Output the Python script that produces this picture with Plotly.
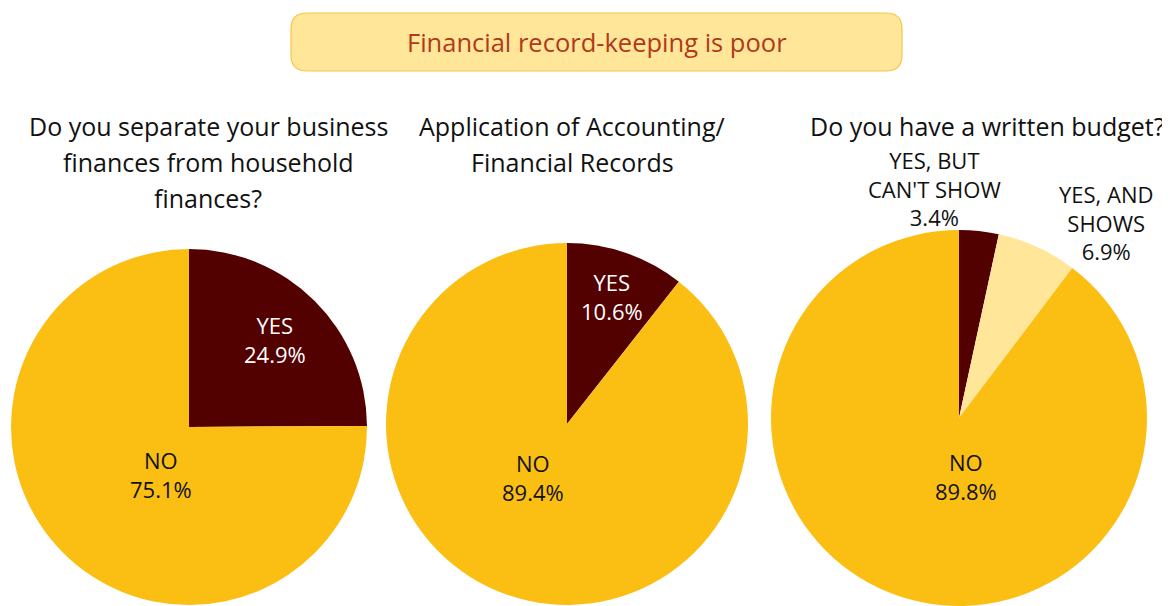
import plotly.graph_objects as go

# data
q1_labels = ['YES', 'NO']
q1_values = [24.9, 75.1]
q2_labels = ['YES', 'NO']
q2_values = [10.6, 89.4]
q3_labels = ["YES, BUT<br>CAN'T SHOW", 'YES, AND<br>SHOWS', 'NO']
q3_values = [3.4, 6.9, 89.8]

titles = [['Do you separate your business', 'finances from household', 'finances?'],
          ['Application of Accounting/', 'Financial Records'],
          ['Do you have a written budget?']]
banner = 'Financial record-keeping is poor'

MAROON = '#530000'
GOLD = '#FBBF14'
LIGHT = '#FFE699'
FONT = 'Open Sans'

# page has an 8px body margin, so the figure is a bit smaller than the window
OFF = 8
W, H = 1162, 598


def px(x):
    return (x - OFF) / W


def py(y):
    return 1 - (y - OFF) / H


def dom(x0, x1, y0, y1):
    return dict(x=[px(x0), px(x1)], y=[max(0, py(y1)), py(y0)])


pies = [
    (q1_labels, q1_values, [MAROON, GOLD], dom(11, 367, 249, 605),
     [(275, 339), (161, 474)], ['white', '#111111']),
    (q2_labels, q2_values, [MAROON, GOLD], dom(386, 748, 243, 605),
     [(612, 296), (533, 477)], ['white', '#111111']),
    (q3_labels, q3_values, [MAROON, LIGHT, GOLD], dom(768, 1150, 230, 606),
     [(934, 188), (1106, 222), (966, 476)], ['#111111', '#111111', '#111111']),
]

fig = go.Figure()

for labels, values, colors, domain, label_pos, label_cols in pies:
    fig.add_trace(go.Pie(
        labels=labels, values=values, sort=False, direction='clockwise', rotation=0,
        marker=dict(colors=colors), textinfo='none', domain=domain,
        showlegend=False, hoverinfo='label+percent'))
    # slice labels
    for lab, val, (lx, ly), c in zip(labels, values, label_pos, label_cols):
        fig.add_annotation(x=px(lx), y=py(ly), xref='paper', yref='paper',
                           text=f'{lab}<br>{val:.1f}%', showarrow=False,
                           xanchor='center', yanchor='middle',
                           font=dict(size=22, color=c, family=FONT))

# question titles, one line at a time for the wider line spacing
title_x = [208, 572, 987]
for lines, x in zip(titles, title_x):
    for i, line in enumerate(lines):
        fig.add_annotation(x=px(x), y=py(126 + 36 * i), xref='paper', yref='paper',
                           text=line, showarrow=False, xanchor='center', yanchor='middle',
                           font=dict(size=25, color='#111111', family=FONT))

# banner box with rounded corners
x0, x1, y0, y1, r = 291, 902, 13, 71, 16
path = (f'M {px(x0 + r)} {py(y0)} L {px(x1 - r)} {py(y0)} '
        f'Q {px(x1)} {py(y0)} {px(x1)} {py(y0 + r)} L {px(x1)} {py(y1 - r)} '
        f'Q {px(x1)} {py(y1)} {px(x1 - r)} {py(y1)} L {px(x0 + r)} {py(y1)} '
        f'Q {px(x0)} {py(y1)} {px(x0)} {py(y1 - r)} L {px(x0)} {py(y0 + r)} '
        f'Q {px(x0)} {py(y0)} {px(x0 + r)} {py(y0)} Z')
fig.add_shape(type='path', path=path, xref='paper', yref='paper',
              fillcolor=LIGHT, line=dict(color='#F8C44A', width=1.2), layer='below')
fig.add_annotation(x=px((x0 + x1) / 2), y=py((y0 + y1) / 2), xref='paper', yref='paper',
                   text=banner, showarrow=False, xanchor='center', yanchor='middle',
                   font=dict(size=25.5, color='#B03A1A', family=FONT))

fig.update_layout(width=W, height=H, margin=dict(l=0, r=0, t=0, b=0),
                  paper_bgcolor='white', plot_bgcolor='white',
                  font=dict(family=FONT))

fig.write_html('out.html')
